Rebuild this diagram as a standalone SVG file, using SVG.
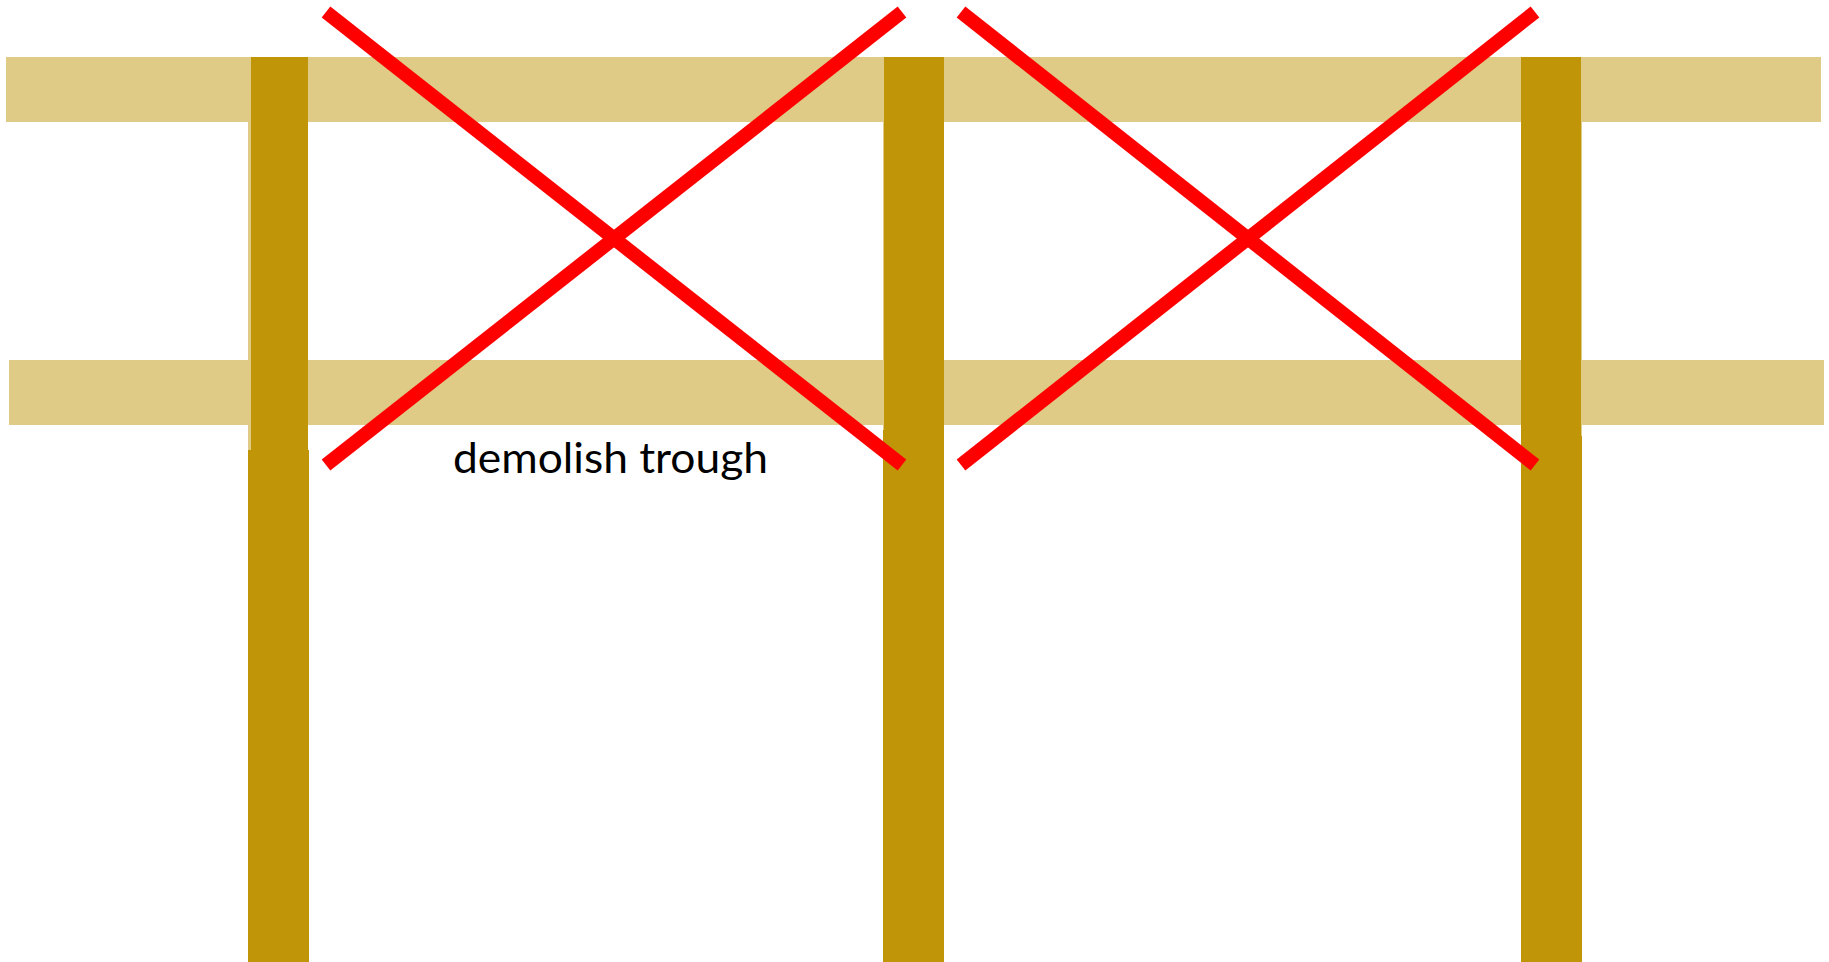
<svg xmlns="http://www.w3.org/2000/svg" width="1829" height="962" viewBox="0 0 1829 962">
<style>
.beam{fill:#DFCA86}
.col{fill:#C09608}
.x{stroke:#FF0000;stroke-width:14;stroke-linecap:butt;fill:none}
.lbl{font-family:Lato,"Open Sans","Liberation Sans",sans-serif;font-size:42px;fill:#000}
</style>
<rect width="1829" height="962" fill="#fff"/>
<g id="beam-top"><rect class="beam" x="6" y="57" width="1815" height="65"/></g>
<g id="beam-bottom"><rect class="beam" x="9" y="360" width="1815" height="65"/></g>
<g id="column-1">
<rect class="beam" x="248" y="122" width="3" height="328"/>
<rect class="col" x="251" y="57" width="57" height="905"/>
<rect class="col" x="248" y="450" width="61" height="512"/>
</g>
<g id="column-2">
<rect class="beam" x="883" y="122" width="1" height="310"/>
<rect class="col" x="884" y="57" width="60" height="905"/>
<rect class="col" x="883" y="430" width="61" height="532"/>
</g>
<g id="column-3">
<rect class="beam" x="1581" y="122" width="1" height="314"/>
<rect class="col" x="1521" y="57" width="60" height="905"/>
<rect class="col" x="1521" y="436" width="61" height="526"/>
</g>
<g id="connectors">
<line class="x" x1="326" y1="12" x2="902" y2="465"/>
<line class="x" x1="902" y1="12" x2="326" y2="465"/>
<line class="x" x1="961" y1="12" x2="1535" y2="465"/>
<line class="x" x1="1535" y1="12" x2="961" y2="465"/>
</g>
<g id="label"><text class="lbl" x="453" y="473" textLength="315" lengthAdjust="spacingAndGlyphs">demolish trough</text></g>
</svg>
